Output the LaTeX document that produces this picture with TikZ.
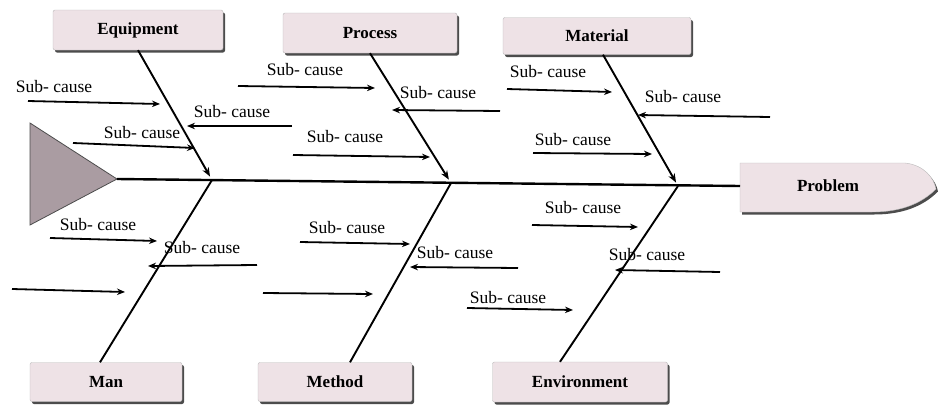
\documentclass[tikz,border=0pt]{standalone}
\usepackage{fontspec}
\setmainfont{Liberation Serif}
\usetikzlibrary{arrows.meta,shadows,calc}
\definecolor{boxfill}{RGB}{238,226,230}
\definecolor{headfill}{RGB}{170,156,162}
\tikzset{
  cat/.style={draw=gray!55, fill=boxfill, rounded corners=2pt,
    font=\fontsize{17}{19}\selectfont\bfseries, inner sep=0pt,
    drop shadow={shadow xshift=2pt, shadow yshift=-2.5pt, fill=black!70, opacity=1}},
  sub/.style={font=\fontsize{17.5}{19}\selectfont, inner sep=0pt},
  bone/.style={line width=1.9pt},
  topbone/.style={bone, -{Stealth[length=9pt,width=7pt]}, shorten >=4pt},
  sc/.style={line width=1.8pt, -{Stealth[length=8pt,width=6.5pt]}},
  spine/.style={line width=2.4pt}
}
\begin{document}
\begin{tikzpicture}[x=1pt,y=-1pt]
\useasboundingbox (0,0) rectangle (938,405);
% head
\coordinate (ht) at (30,123);
\coordinate (hb) at (30,225);
\coordinate (head) at (117,179);
\fill[headfill] (ht) -- (head) -- (hb) -- cycle;
\draw[gray!60!black, line width=0.8pt] (ht) -- (head) -- (hb) -- cycle;
% problem box
\path[fill=boxfill, draw=gray!55, drop shadow={shadow xshift=2pt, shadow yshift=-2.5pt, fill=black!70, opacity=1}]
  (740,163) -- (905,163) .. controls (924,165) and (934,178) .. (936,189)
  .. controls (924,201) and (905,212) .. (872,212) -- (740,212) -- cycle;
\node[font=\fontsize{17}{19}\selectfont\bfseries] (problem) at (828,186) {Problem};
\coordinate (pw) at (740,186);
% category boxes
\node[cat, minimum width=170pt, minimum height=40pt] (equip) at (138,30) {Equipment};
\node[cat, minimum width=174pt, minimum height=40pt] (process) at (370,33) {Process};
\node[cat, minimum width=188pt, minimum height=37pt] (material) at (597,36) {Material};
\node[cat, minimum width=152pt, minimum height=39pt] (man) at (106,382) {Man};
\node[cat, minimum width=154pt, minimum height=39pt] (method) at (335,382) {Method};
\node[cat, minimum width=175pt, minimum height=40pt] (env) at (580,382) {Environment};
% spine
\draw[spine] (head) -- (pw);
\coordinate (j1) at (212,180);
\coordinate (j2) at (451,183);
\coordinate (j3) at (678,186);
% bones
\draw[topbone] (equip.south) -- (j1);
\draw[topbone] (process.south) -- (j2);
\draw[topbone] ($(material.south)+(6,0)$) -- (j3);
\draw[bone] ($(man.north)+(-6,0)$) -- (j1);
\draw[bone] ($(method.north)+(15,0)$) -- (j2);
\draw[bone] ($(env.north)+(-20,0)$) -- (j3);
% sub-cause arrows: start / end coordinates
\coordinate (a1s) at (28,101);  \coordinate (a1e) at (160,104);
\coordinate (a2s) at (292,126); \coordinate (a2e) at (187,126);
\coordinate (a3s) at (73,143);  \coordinate (a3e) at (195,148);
\coordinate (a4s) at (238,86);  \coordinate (a4e) at (375,88);
\coordinate (a5s) at (500,111); \coordinate (a5e) at (392,110);
\coordinate (a6s) at (293,155); \coordinate (a6e) at (430,157);
\coordinate (a7s) at (507,89);  \coordinate (a7e) at (612,92);
\coordinate (a8s) at (770,117); \coordinate (a8e) at (638,115);
\coordinate (a9s) at (533,153); \coordinate (a9e) at (652,154);
\coordinate (b1s) at (50,238);  \coordinate (b1e) at (157,241);
\coordinate (b2s) at (257,265); \coordinate (b2e) at (148,266);
\coordinate (b3s) at (12,289);  \coordinate (b3e) at (125,292);
\coordinate (b4s) at (300,242); \coordinate (b4e) at (410,244);
\coordinate (b5s) at (518,268); \coordinate (b5e) at (410,267);
\coordinate (b6s) at (263,293); \coordinate (b6e) at (373,294);
\coordinate (b7s) at (532,225); \coordinate (b7e) at (638,227);
\coordinate (b8s) at (720,272); \coordinate (b8e) at (615,270);
\coordinate (b9s) at (467,308); \coordinate (b9e) at (573,310);
\foreach \n in {a1,a2,a3,a4,a5,a6,a7,a8,a9,b1,b2,b3,b4,b5,b6,b7,b8,b9}
  \draw[sc] (\n s) -- (\n e);
% labels
\node[sub] (l1) at (54,87) {Sub- cause};
\node[sub] (l2) at (232,112) {Sub- cause};
\node[sub] (l3) at (142,133) {Sub- cause};
\node[sub] (l4) at (305,70) {Sub- cause};
\node[sub] (l5) at (438,93) {Sub- cause};
\node[sub] (l6) at (345,137) {Sub- cause};
\node[sub] (l7) at (548,72) {Sub- cause};
\node[sub] (l8) at (683,97) {Sub- cause};
\node[sub] (l9) at (573,140) {Sub- cause};
\node[sub] (m1) at (98,225) {Sub- cause};
\node[sub] (m2) at (202,248) {Sub- cause};
\node[sub] (m4) at (347,228) {Sub- cause};
\node[sub] (m5) at (455,253) {Sub- cause};
\node[sub] (m7) at (583,208) {Sub- cause};
\node[sub] (m8) at (647,255) {Sub- cause};
\node[sub] (m9) at (508,298) {Sub- cause};
\end{tikzpicture}
\end{document}
